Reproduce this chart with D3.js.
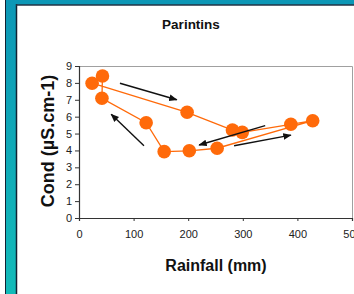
<!DOCTYPE html>
<html>
<head>
<meta charset="utf-8">
<script src="https://cdn.jsdelivr.net/npm/d3@7"></script>
<style>
  body { margin: 0; background: #fff; }
  svg { display: block; font-family: Arial, "Liberation Sans", sans-serif; }
</style>
</head>
<body>
<script>
// rainfall (mm) and conductivity, in the order the line joins them
var rainfall = [24, 198, 281, 299, 388, 428, 253, 202, 156, 123, 42, 43];
var cond     = [7.98, 6.26, 5.21, 5.07, 5.55, 5.76, 4.13, 3.98, 3.93, 5.64, 7.09, 8.41];

// arrows drawn on the chart: start and end in data units
var arrowFrom = [[75, 7.98], [341, 5.47], [284, 4.28], [119, 4.28]];
var arrowTo   = [[179, 7.0], [220, 4.32], [388, 4.91], [59, 6.14]];

var xTicks = [0, 100, 200, 300, 400, 500];
var yTicks = [0, 1, 2, 3, 4, 5, 6, 7, 8, 9];

var width = 354,
    height = 294;

// plot area (don't call these top/left, window.top is taken)
var plotLeft = 79, plotRight = 352, plotTop = 66, plotBottom = 218;

var svg = d3.select("body").append("svg")
    .attr("width", width)
    .attr("height", height);

var defs = svg.append("defs");
var grad = defs.append("linearGradient")
    .attr("id", "teal")
    .attr("x1", 0).attr("y1", 0).attr("x2", 0).attr("y2", 1);
grad.append("stop").attr("offset", "0%").attr("stop-color", "#0c97b6");
grad.append("stop").attr("offset", "100%").attr("stop-color", "#12bbb9");

defs.append("marker")
    .attr("id", "head")
    .attr("viewBox", "0 0 10 10")
    .attr("refX", 9).attr("refY", 5)
    .attr("markerWidth", 6).attr("markerHeight", 6)
    .attr("orient", "auto")
  .append("path")
    .attr("d", "M0,1L10,5L0,9Z")
    .attr("fill", "#111");

// slide frame: teal strip on the left and across the top
svg.append("rect").attr("x", 6).attr("y", 0).attr("width", width - 6).attr("height", 5)
    .attr("fill", "#0c97b6");
svg.append("rect").attr("x", 6).attr("y", 0).attr("width", 10).attr("height", height)
    .attr("fill", "url(#teal)");
svg.append("line").attr("x1", 5.5).attr("x2", 5.5).attr("y1", 0).attr("y2", height)
    .attr("stroke", "#123").attr("stroke-width", 1);
svg.append("line").attr("x1", 16.5).attr("x2", 16.5).attr("y1", 4).attr("y2", height)
    .attr("stroke", "#123").attr("stroke-width", 1.5);
svg.append("line").attr("x1", 16).attr("x2", width).attr("y1", 5).attr("y2", 5)
    .attr("stroke", "#234").attr("stroke-width", 1.5);

var x = d3.scaleLinear().domain([0, 500]).range([plotLeft, plotRight]);
var y = d3.scaleLinear().domain([0, 9]).range([plotBottom, plotTop]);

// grey box on top and right
svg.append("path")
    .attr("d", "M" + plotLeft + "," + (plotTop + 0.5) + "H" + (plotRight + 0.5) + "V" + plotBottom)
    .attr("fill", "none")
    .attr("stroke", "#a0a0a0")
    .attr("stroke-width", 1);

var xAxis = svg.append("g")
    .attr("transform", "translate(0," + plotBottom + ")")
    .call(d3.axisBottom(x).tickValues(xTicks).tickSize(3).tickPadding(9));
var yAxis = svg.append("g")
    .attr("transform", "translate(" + plotLeft + ",0)")
    .call(d3.axisLeft(y).tickValues(yTicks).tickSize(4).tickPadding(3));

[xAxis, yAxis].forEach(function (a) {
    a.select(".domain").attr("stroke", "#333").attr("stroke-width", 1.2);
    a.selectAll(".tick line").attr("stroke", "#333");
    a.selectAll("text").attr("fill", "#222").style("font-size", "11px");
});

// the loop
var line = d3.line()
    .x(function (d, i) { return x(rainfall[i]); })
    .y(function (d, i) { return y(cond[i]); });

svg.append("path")
    .datum(cond)
    .attr("d", line)
    .attr("fill", "none")
    .attr("stroke", "#ff6a0a")
    .attr("stroke-width", 1.3);

svg.append("g").selectAll("circle")
    .data(cond)
    .enter().append("circle")
    .attr("cx", function (d, i) { return x(rainfall[i]); })
    .attr("cy", function (d) { return y(d); })
    .attr("r", 6.8)
    .attr("fill", "#ff6a0a");

// direction arrows
svg.append("g").selectAll("line")
    .data(arrowFrom)
    .enter().append("line")
    .attr("x1", function (d) { return x(d[0]); })
    .attr("y1", function (d) { return y(d[1]); })
    .attr("x2", function (d, i) { return x(arrowTo[i][0]); })
    .attr("y2", function (d, i) { return y(arrowTo[i][1]); })
    .attr("stroke", "#111")
    .attr("stroke-width", 1.4)
    .attr("marker-end", "url(#head)");

// titles
svg.append("text")
    .attr("x", 191).attr("y", 29)
    .attr("text-anchor", "middle")
    .style("font-size", "13.5px").style("font-weight", "bold")
    .attr("fill", "#111")
    .text("Parintins");

svg.append("text")
    .attr("x", 216).attr("y", 271)
    .attr("text-anchor", "middle")
    .style("font-size", "16px").style("font-weight", "bold")
    .attr("fill", "#111")
    .text("Rainfall (mm)");

svg.append("text")
    .attr("transform", "translate(54,141) rotate(-90)")
    .attr("text-anchor", "middle")
    .style("font-size", "18px").style("font-weight", "bold")
    .attr("fill", "#111")
    .text("Cond (µS.cm-1)");
</script>
</body>
</html>
